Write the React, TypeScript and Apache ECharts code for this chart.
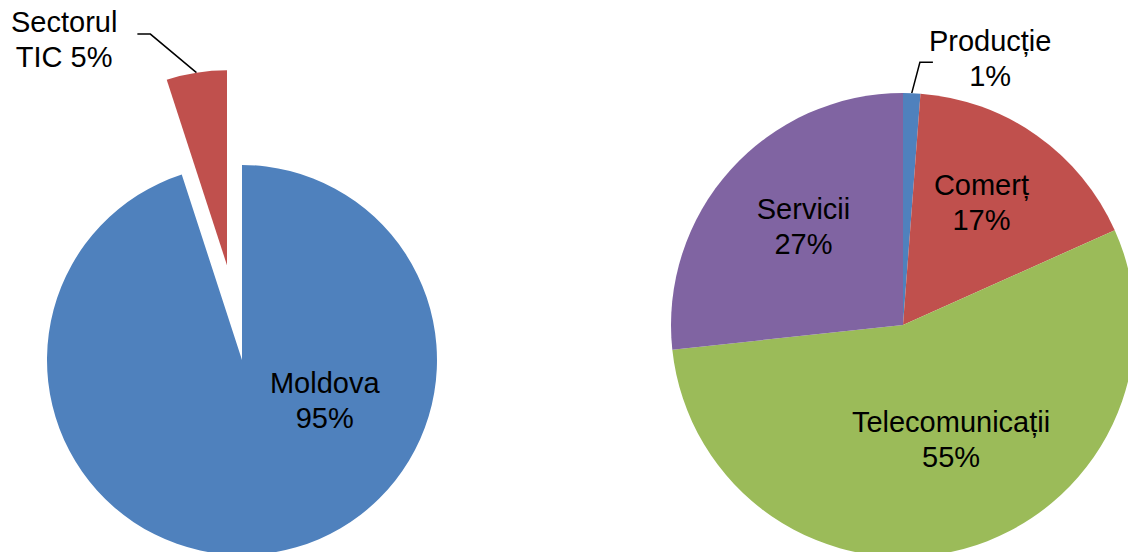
import React, { useEffect, useRef } from "react";
import * as echarts from "echarts";

const leftNames = ["Moldova", "Sectorul\nTIC"];
const leftValues = [95, 5];
const leftColors = ["#4F81BD", "#C0504D"];

const rightNames = ["Producție", "Comerț", "Telecomunicații", "Servicii"];
const rightValues = [1.2, 17.1, 55.0, 26.7];
const rightColors = ["#4F81BD", "#C0504D", "#9BBB59", "#8064A2"];

const FONT = "'Liberation Sans', Arial, sans-serif";
const FS = 29;

function fmt(p: any) {
  const pct = Math.round(p.percent) + "%";
  const text = p.name.indexOf("\n") >= 0 ? p.name + " " + pct : p.name + "\n" + pct;
  return text
    .split("\n")
    .map((l: string) => "{c|" + l + "}")
    .join("\n");
}

const labelBase = {
  color: "#000",
  fontFamily: FONT,
  fontSize: FS,
  lineHeight: 35,
  formatter: fmt,
  rich: {
    c: { align: "center", color: "#000", fontFamily: FONT, fontSize: FS, lineHeight: 35 },
  },
};

// label nudges for inside labels [dx, dy], per series then per data index
const insideShift: Record<number, Record<number, [number, number]>> = {
  0: { 0: [67, -59] },
  1: { 1: [10, -25], 2: [17, 0], 3: [-11, -19] },
};
// horizontal part of the leader line (px), sign = direction from the label end
const elbow: Record<number, Record<number, number>> = {
  0: { 1: 13 },
  1: { 0: -13 },
};

export default function App() {
  const ref = useRef<HTMLDivElement>(null);
  useEffect(() => {
    if (!ref.current) return;
    const chart = echarts.init(ref.current, undefined, { renderer: "svg" });
    const leftData = leftNames.map((n, i) => ({
      name: n,
      value: leftValues[i],
      selected: i === 1,
      itemStyle: { color: leftColors[i] },
      label:
        i === 1
          ? { position: "outside", padding: [10, 0, 0, 0], distanceToLabelLine: 20 }
          : { position: "inside" },
      labelLine: i === 1 ? { show: true, length: 39, length2: 53 } : { show: false },
    }));
    const rightData = rightNames.map((n, i) => ({
      name: n,
      value: rightValues[i],
      itemStyle: { color: rightColors[i] },
      label:
        i === 0
          ? { position: "outside", distanceToLabelLine: -4, padding: [0, 0, 8, 0] }
          : { position: "inside" },
      labelLine: i === 0 ? { show: true, length: 31, length2: 20 } : { show: false },
    }));
    const common = {
      type: "pie",
      startAngle: 90,
      clockwise: true,
      avoidLabelOverlap: false,
      emphasis: { disabled: true, scale: false },
      select: { itemStyle: { borderWidth: 0 }, label: { fontWeight: "normal" } },
      itemStyle: { borderWidth: 0 },
      label: labelBase,
      labelLine: { lineStyle: { color: "#000", width: 1.5 }, smooth: false },
      labelLayout: (p: any) => {
        const s = insideShift[p.seriesIndex] && insideShift[p.seriesIndex][p.dataIndex];
        if (s) return { dx: s[0], dy: s[1] };
        const e = elbow[p.seriesIndex] && elbow[p.seriesIndex][p.dataIndex];
        const pts = p.labelLinePoints;
        if (e != null && pts && pts.length === 3) {
          const end = pts[2];
          return {
            labelLinePoints: [pts[0], [end[0] + e, end[1]], end],
          };
        }
        return {};
      },
    };
    chart.setOption({
      animation: false,
      backgroundColor: "#fff",
      series: [
        {
          ...common,
          name: "left",
          center: [242, 360],
          radius: 195,
          selectedMode: "single",
          selectedOffset: 96,
          data: leftData,
        },
        {
          ...common,
          name: "right",
          center: [903, 325],
          radius: 232,
          selectedMode: false,
          data: rightData,
        },
      ],
    });
    return () => chart.dispose();
  }, []);
  return (
    <div
      ref={ref}
      style={{ position: "fixed", left: 0, top: 0, width: 1128, height: 552 }}
    />
  );
}
